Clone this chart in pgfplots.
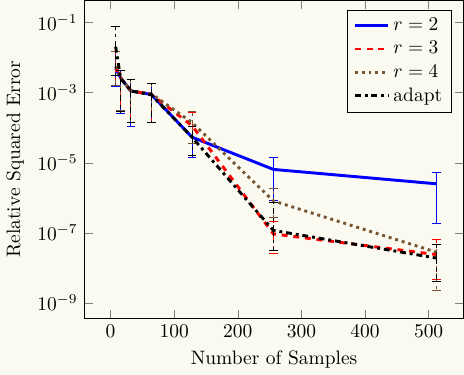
\documentclass[border=0pt]{standalone}
\usepackage{pgfplots}
\pgfplotsset{compat=1.18}
\usepackage{pgfplotstable}
\definecolor{bg}{RGB}{250,250,240}
\definecolor{mybrown}{RGB}{120,85,50}
\pagecolor{bg}

\pgfplotstableread{
x y hi lo
8 4.90e-3 1.51e-2 1.51e-3
16 2.63e-3 4.37e-3 2.51e-4
32 1.12e-3 2.34e-3 1.07e-4
64 8.91e-4 1.78e-3 1.38e-4
128 5.37e-5 1.12e-4 1.45e-5
256 6.46e-6 1.45e-5 8.13e-7
512 2.51e-6 5.13e-6 1.82e-7
}\rtwo
\pgfplotstableread{
x y hi lo
8 5.62e-3 1.45e-2 1.62e-3
16 2.63e-3 4.37e-3 3.16e-4
32 1.12e-3 2.34e-3 1.45e-4
64 8.91e-4 1.78e-3 1.41e-4
128 1.15e-4 2.69e-4 3.47e-5
256 9.33e-8 2.09e-7 2.63e-8
512 2.40e-8 6.31e-8 4.57e-9
}\rthree
\pgfplotstableread{
x y hi lo
8 5.62e-3 1.45e-2 1.62e-3
16 2.63e-3 4.37e-3 3.16e-4
32 1.12e-3 2.34e-3 1.45e-4
64 9.30e-4 1.78e-3 1.41e-4
128 1.41e-4 2.82e-4 3.47e-5
256 8.13e-7 1.82e-6 2.69e-7
512 2.82e-8 4.68e-8 2.24e-9
}\rfour
\pgfplotstableread{
x y hi lo
8 2.04e-2 7.59e-2 3.16e-3
16 2.51e-3 4.37e-3 2.82e-4
32 1.12e-3 2.34e-3 1.45e-4
64 8.71e-4 1.78e-3 1.38e-4
128 5.37e-5 1.12e-4 1.58e-5
256 1.17e-7 7.24e-7 3.16e-8
512 1.91e-8 4.68e-8 4.17e-9
}\adapt

\begin{document}
\begin{tikzpicture}
\begin{axis}[
  scale only axis,
  width=195pt, height=163.4pt,
  ymode=log,
  xmin=-41, xmax=555,
  ymin=3.7e-10, ymax=0.43,
  xtick={0,100,200,300,400,500},
  ytick={1e-1,1e-3,1e-5,1e-7,1e-9},
  yminorticks=false,
  xlabel={Number of Samples},
  ylabel={Relative Squared Error},
  legend pos=north east,
  legend style={fill=none, draw=black, font=\normalsize},
  legend cell align=left,
  error bars/y dir=both,
  error bars/y explicit,
  error bars/error mark=-,
  error bars/error bar style={line width=0.5pt},
  error bars/error mark options={rotate=90, solid, line width=0.5pt, mark size=2.2pt},
]
\addplot[blue, line width=1.5pt, solid] table[x=x, y=y,
  y error plus expr=\thisrow{hi}-\thisrow{y},
  y error minus expr=\thisrow{y}-\thisrow{lo}] {\rtwo};
\addlegendentry{$r=2$}
\addplot[red, line width=1.5pt, dashed] table[x=x, y=y,
  y error plus expr=\thisrow{hi}-\thisrow{y},
  y error minus expr=\thisrow{y}-\thisrow{lo}] {\rthree};
\addlegendentry{$r=3$}
\addplot[mybrown, line width=1.5pt, dotted] table[x=x, y=y,
  y error plus expr=\thisrow{hi}-\thisrow{y},
  y error minus expr=\thisrow{y}-\thisrow{lo}] {\rfour};
\addlegendentry{$r=4$}
\addplot[black, line width=1.5pt, dashdotted] table[x=x, y=y,
  y error plus expr=\thisrow{hi}-\thisrow{y},
  y error minus expr=\thisrow{y}-\thisrow{lo}] {\adapt};
\addlegendentry{adapt}
\end{axis}
\end{tikzpicture}
\end{document}
